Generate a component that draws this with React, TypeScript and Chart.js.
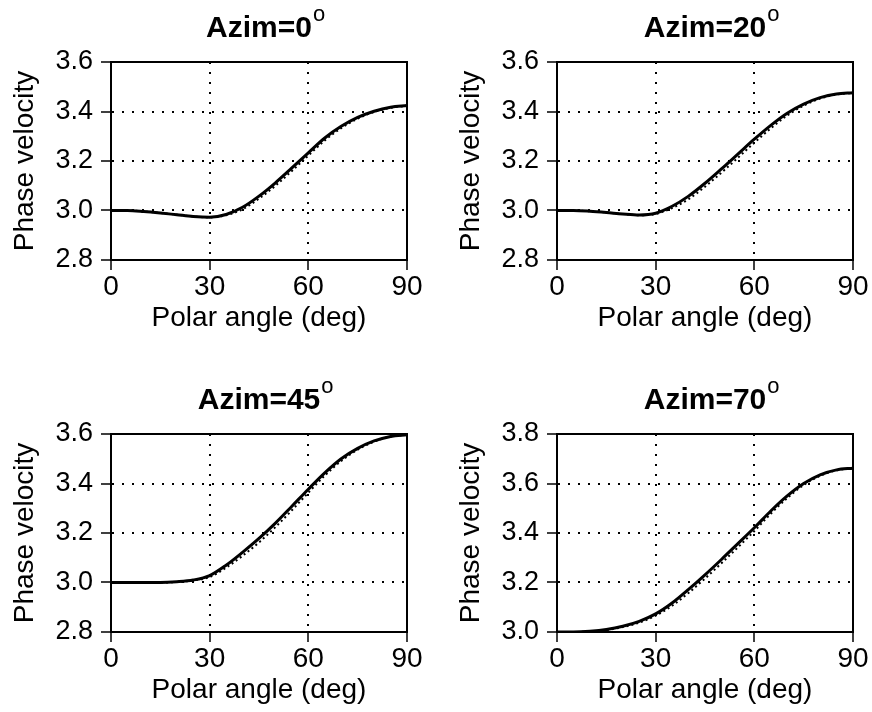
import React, { useEffect, useRef } from "react";
import { Chart, registerables } from "chart.js";

Chart.register(...registerables);

// ---- data ----
const polarAngles = [0, 5, 10, 15, 20, 25, 30, 35, 40, 45, 50, 55, 60, 65, 70, 75, 80, 85, 90];
const xTicks = [0, 30, 60, 90];

const azimLabels = ["0", "20", "45", "70"];

const solid0 = [3.0, 3.0, 2.996, 2.99, 2.983, 2.976, 2.973, 2.984, 3.013, 3.058, 3.112, 3.172, 3.233, 3.293, 3.34, 3.376, 3.401, 3.417, 3.424];
const dotted0 = [3.0, 3.0, 2.996, 2.99, 2.983, 2.976, 2.972, 2.981, 3.005, 3.048, 3.1, 3.16, 3.222, 3.283, 3.333, 3.371, 3.398, 3.415, 3.422];

const solid20 = [3.0, 3.0, 2.997, 2.992, 2.986, 2.982, 2.989, 3.017, 3.058, 3.11, 3.168, 3.228, 3.288, 3.344, 3.393, 3.43, 3.456, 3.471, 3.476];
const dotted20 = [3.0, 3.0, 2.997, 2.992, 2.986, 2.981, 2.986, 3.01, 3.046, 3.096, 3.153, 3.213, 3.274, 3.332, 3.384, 3.424, 3.452, 3.469, 3.475];

const solid45 = [3.0, 3.0, 3.0, 3.0, 3.003, 3.01, 3.028, 3.07, 3.122, 3.178, 3.24, 3.308, 3.377, 3.443, 3.5, 3.542, 3.572, 3.59, 3.597];
const dotted45 = [3.0, 3.0, 3.0, 3.0, 3.002, 3.008, 3.022, 3.06, 3.108, 3.162, 3.224, 3.292, 3.363, 3.432, 3.491, 3.537, 3.569, 3.589, 3.597];

const solid70 = [3.0, 3.0, 3.003, 3.01, 3.023, 3.043, 3.073, 3.117, 3.172, 3.231, 3.293, 3.357, 3.421, 3.489, 3.55, 3.6, 3.635, 3.655, 3.662];
const dotted70 = [3.0, 3.0, 3.002, 3.008, 3.02, 3.038, 3.066, 3.106, 3.158, 3.216, 3.278, 3.342, 3.408, 3.478, 3.541, 3.594, 3.631, 3.653, 3.661];

const yRanges = [
  [2.8, 3.6],
  [2.8, 3.6],
  [2.8, 3.6],
  [3.0, 3.8],
];

const solids = [solid0, solid20, solid45, solid70];
const dotteds = [dotted0, dotted20, dotted45, dotted70];

const FONT = '"Liberation Sans", Arial, Helvetica, sans-serif';

const CANVAS_W = 426;
const CANVAS_H = 340;

function Panel({ idx }: { idx: number }) {
  const ref = useRef<HTMLCanvasElement | null>(null);
  useEffect(() => {
    if (!ref.current) return;
    const [ymin, ymax] = yRanges[idx];
    const toPts = (arr: number[]) => polarAngles.map((a, i) => ({ x: a, y: arr[i] }));
    const titlePlugin = {
      id: "panelTitle",
      afterDraw(chart: any) {
        const { ctx, chartArea } = chart;
        const cx = (chartArea.left + chartArea.right) / 2;
        ctx.save();
        ctx.fillStyle = "#000";
        ctx.font = `bold 30px ${FONT}`;
        ctx.textAlign = "center";
        ctx.textBaseline = "alphabetic";
        const main = "Azim=" + azimLabels[idx];
        const w = ctx.measureText(main).width;
        ctx.fillText(main, cx, 37);
        ctx.font = `22px ${FONT}`;
        ctx.textAlign = "left";
        ctx.fillText("o", cx + w / 2 + 1, 21);
        ctx.restore();
      },
    };
    const framePlugin = {
      id: "frame",
      afterDraw(chart: any) {
        const { ctx, chartArea } = chart;
        ctx.save();
        ctx.strokeStyle = "#000";
        ctx.lineWidth = 2;
        ctx.setLineDash([]);
        ctx.strokeRect(chartArea.left, chartArea.top, chartArea.right - chartArea.left, chartArea.bottom - chartArea.top);
        ctx.restore();
      },
    };
    const chart = new Chart(ref.current, {
      type: "line",
      data: {
        datasets: [
          {
            data: toPts(solids[idx]),
            borderColor: "#000",
            borderWidth: 3,
            pointRadius: 0,
            cubicInterpolationMode: "monotone",
          },
          {
            data: toPts(dotteds[idx]),
            borderColor: "#000",
            borderWidth: 2,
            borderDash: [2, 3],
            pointRadius: 0,
            cubicInterpolationMode: "monotone",
          },
        ],
      },
      options: {
        responsive: false,
        animation: false,
        layout: { padding: { top: 62, right: 19, left: 0, bottom: 0 } },
        plugins: { legend: { display: false }, tooltip: { enabled: false }, title: { display: false } },
        scales: {
          x: {
            type: "linear",
            min: 0,
            max: 90,
            afterBuildTicks: (scale: any) => {
              scale.ticks = xTicks.map((v) => ({ value: v }));
            },
            afterFit: (scale: any) => {
              scale.height = 80;
            },
            ticks: {
              color: "#000",
              font: { family: FONT, size: 28 },
              padding: 0,
              maxRotation: 0,
              callback: (v: any) => String(v),
            },
            grid: {
              color: (ctx: any) => (ctx.tick && (ctx.tick.value === 0 || ctx.tick.value === 90) ? "rgba(0,0,0,0)" : "#000"),
              lineWidth: 2,
              tickColor: "#000",
              tickBorderDash: [],
              tickWidth: 1.5,
              tickLength: 10,
            },
            border: { display: true, color: "#000", width: 2, dash: [2, 8] },
            title: {
              display: true,
              text: "Polar angle (deg)",
              color: "#000",
              font: { family: FONT, size: 28 },
              padding: { top: 0, bottom: 5 },
            },
          },
          y: {
            type: "linear",
            min: ymin,
            max: ymax,
            ticks: {
              stepSize: 0.2,
              color: "#000",
              font: { family: FONT, size: 27 },
              padding: 8,
              callback: (v: any) => Number(v).toFixed(1),
            },
            afterFit: (scale: any) => {
              scale.width = 111;
            },
            grid: {
              color: (ctx: any) =>
                ctx.tick && (Math.abs(ctx.tick.value - ymin) < 1e-6 || Math.abs(ctx.tick.value - ymax) < 1e-6)
                  ? "rgba(0,0,0,0)"
                  : "#000",
              lineWidth: 2,
              tickColor: "#000",
              tickBorderDash: [],
              tickWidth: 1.5,
              tickLength: 10,
            },
            border: { display: true, color: "#000", width: 2, dash: [2, 8] },
            title: {
              display: true,
              text: "Phase velocity",
              color: "#000",
              font: { family: FONT, size: 28 },
              padding: { top: 8, bottom: 0 },
            },
          },
        },
      },
      plugins: [titlePlugin, framePlugin],
    } as any);
    return () => chart.destroy();
  }, [idx]);
  const col = idx % 2;
  const row = Math.floor(idx / 2);
  return (
    <canvas
      ref={ref}
      width={CANVAS_W}
      height={CANVAS_H}
      style={{
        position: "absolute",
        left: col * 446,
        top: row * 372,
        width: CANVAS_W,
        height: CANVAS_H,
        display: "block",
      }}
    />
  );
}

export default function App() {
  return (
    <div
      style={{
        position: "absolute",
        left: 0,
        top: 0,
        width: 872,
        height: 712,
        background: "#fff",
        overflow: "hidden",
      }}
    >
      {[0, 1, 2, 3].map((i) => (
        <Panel key={i} idx={i} />
      ))}
    </div>
  );
}
